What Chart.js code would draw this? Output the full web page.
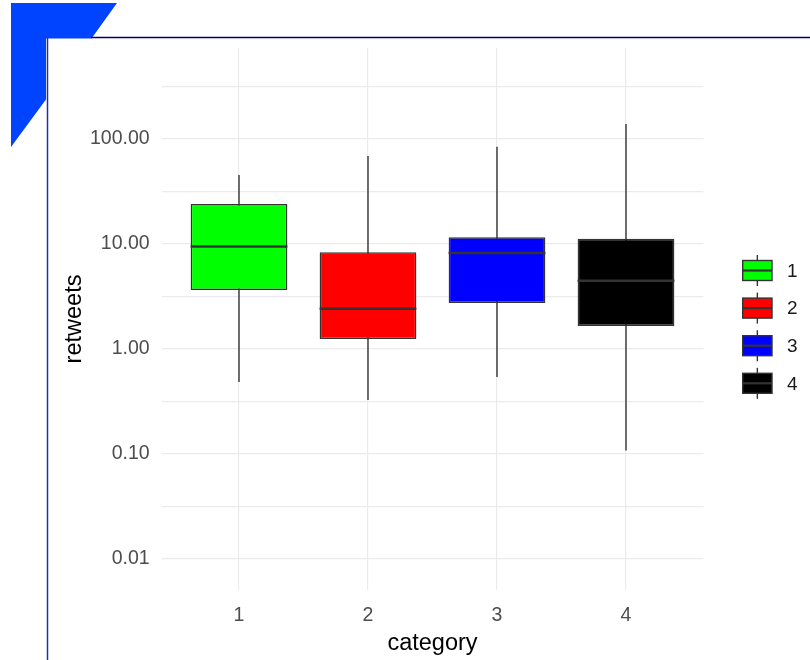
<!DOCTYPE html>
<html>
<head>
<meta charset="utf-8">
<script src="https://cdn.jsdelivr.net/npm/chart.js@4.4.1/dist/chart.umd.min.js"></script>
<style>
  html, body { margin: 0; padding: 0; background: #ffffff; }
  #wrap { position: relative; width: 810px; height: 660px; }
  canvas { display: block; }
</style>
</head>
<body>
<div id="wrap"><canvas id="c" width="810" height="660"></canvas></div>
<script>
// Retweet distribution per category (log scale)
const categories  = ['1', '2', '3', '4'];
const whiskerLow  = [0.485, 0.327, 0.541, 0.108];
const quartile1   = [3.65, 1.245, 2.74, 1.66];
const medians     = [9.47, 2.42, 8.2, 4.47];
const quartile3   = [24.0, 8.33, 11.6, 11.2];
const whiskerHigh = [45.4, 68.9, 84.5, 139];
const fillColors  = ['#00ff00', '#ff0000', '#0000ff', '#000000'];
const majorTicks  = [0.01, 0.1, 1, 10, 100];
const minorTicks  = [0.0316, 0.316, 3.16, 31.6, 316];

const FONT = "'Liberation Sans', Arial, sans-serif";
const LINE = '#333333';
const GRID = '#ebebeb';

// Frame decoration, whiskers, medians and the boxplot legend
const boxPlugin = {
  id: 'boxplotParts',
  beforeDraw(chart) {
    const ctx = chart.ctx;
    ctx.save();
    ctx.fillStyle = '#0044ff';
    ctx.beginPath();
    ctx.moveTo(11, 3);
    ctx.lineTo(117, 3);
    ctx.lineTo(91.5, 38.5);
    ctx.lineTo(46, 38.5);
    ctx.lineTo(46, 99.5);
    ctx.lineTo(11, 147);
    ctx.closePath();
    ctx.fill();

    ctx.strokeStyle = '#000070';
    ctx.lineWidth = 1.5;
    ctx.beginPath();
    ctx.moveTo(91, 37.5);
    ctx.lineTo(810, 37.5);
    ctx.stroke();

    ctx.strokeStyle = '#2b2ba8';
    ctx.beginPath();
    ctx.moveTo(47.5, 38);
    ctx.lineTo(47.5, 660);
    ctx.stroke();
    ctx.restore();
  },
  beforeDatasetsDraw(chart) {
    const ctx = chart.ctx;
    const xs = chart.scales.x, ys = chart.scales.y;
    ctx.save();
    ctx.strokeStyle = LINE;
    ctx.lineWidth = 1.4;
    categories.forEach((c, i) => {
      const x = xs.getPixelForValue(i + 1);
      ctx.beginPath();
      ctx.moveTo(x, ys.getPixelForValue(whiskerLow[i]));
      ctx.lineTo(x, ys.getPixelForValue(whiskerHigh[i]));
      ctx.stroke();
    });
    ctx.restore();
  },
  afterDatasetsDraw(chart) {
    const ctx = chart.ctx;
    const ys = chart.scales.y;
    const bars = chart.getDatasetMeta(0).data;
    ctx.save();
    ctx.strokeStyle = LINE;
    ctx.lineWidth = 2.6;
    bars.forEach((bar, i) => {
      const y = ys.getPixelForValue(medians[i]);
      ctx.beginPath();
      ctx.moveTo(bar.x - bar.width / 2, y);
      ctx.lineTo(bar.x + bar.width / 2, y);
      ctx.stroke();
    });
    ctx.restore();
  },
  afterDraw(chart) {
    const ctx = chart.ctx;
    const left = 742.7, w = 29.3, step = 37.6, top = 270.5;
    ctx.save();
    categories.forEach((c, i) => {
      const cy = top + i * step;
      const cx = left + w / 2;
      ctx.strokeStyle = LINE;
      ctx.lineWidth = 1.4;
      ctx.beginPath();
      ctx.moveTo(cx, cy - 15.5);
      ctx.lineTo(cx, cy + 15.5);
      ctx.stroke();
      ctx.fillStyle = fillColors[i];
      ctx.fillRect(left, cy - 10, w, 20);
      ctx.strokeRect(left, cy - 10, w, 20);
      ctx.lineWidth = 2.2;
      ctx.beginPath();
      ctx.moveTo(left, cy);
      ctx.lineTo(left + w, cy);
      ctx.stroke();
      ctx.fillStyle = '#1a1a1a';
      ctx.font = '19px ' + FONT;
      ctx.textAlign = 'left';
      ctx.textBaseline = 'middle';
      ctx.fillText(c, 787, cy + 1);
    });
    ctx.restore();
  }
};

new Chart(document.getElementById('c'), {
  type: 'bar',
  data: {
    datasets: [{
      data: categories.map((c, i) => ({ x: i + 1, y: [quartile1[i], quartile3[i]] })),
      backgroundColor: fillColors,
      borderColor: LINE,
      borderWidth: 1.5,
      borderSkipped: false,
      categoryPercentage: 0.75,
      barPercentage: 1
    }]
  },
  options: {
    responsive: false,
    animation: false,
    layout: { padding: { left: 50, top: 48, right: 106.6, bottom: 0 } },
    plugins: { legend: { display: false }, tooltip: { enabled: false } },
    scales: {
      x: {
        type: 'linear',
        min: 0.4,
        max: 4.6,
        offset: false,
        afterBuildTicks: s => { s.ticks = categories.map((c, i) => ({ value: i + 1 })); },
        afterFit: s => { s.height = 70; },
        ticks: {
          callback: v => categories[v - 1],
          font: { family: FONT, size: 19.5 },
          color: '#4d4d4d',
          padding: 14,
          maxRotation: 0,
          autoSkip: false
        },
        grid: { color: GRID, lineWidth: 1.2, drawTicks: false, offset: false },
        border: { display: false },
        title: {
          display: true,
          text: 'category',
          font: { family: FONT, size: 23.5 },
          color: '#000000',
          padding: { top: 0, bottom: 2 }
        }
      },
      y: {
        type: 'logarithmic',
        min: 0.00507,
        max: 736,
        afterBuildTicks: s => {
          s.ticks = [...majorTicks, ...minorTicks].sort((a, b) => a - b).map(v => ({ value: v }));
        },
        afterFit: s => { s.width = 111.6; },
        ticks: {
          callback: v => majorTicks.includes(v) ? v.toFixed(2) : '',
          font: { family: FONT, size: 19.5 },
          color: '#4d4d4d',
          padding: 12,
          autoSkip: false
        },
        grid: { color: GRID, lineWidth: 1.2, drawTicks: false },
        border: { display: false },
        title: {
          display: true,
          text: 'retweets',
          font: { family: FONT, size: 23.5 },
          color: '#000000',
          padding: { top: 10, bottom: 0 }
        }
      }
    }
  },
  plugins: [boxPlugin]
});
</script>
</body>
</html>
